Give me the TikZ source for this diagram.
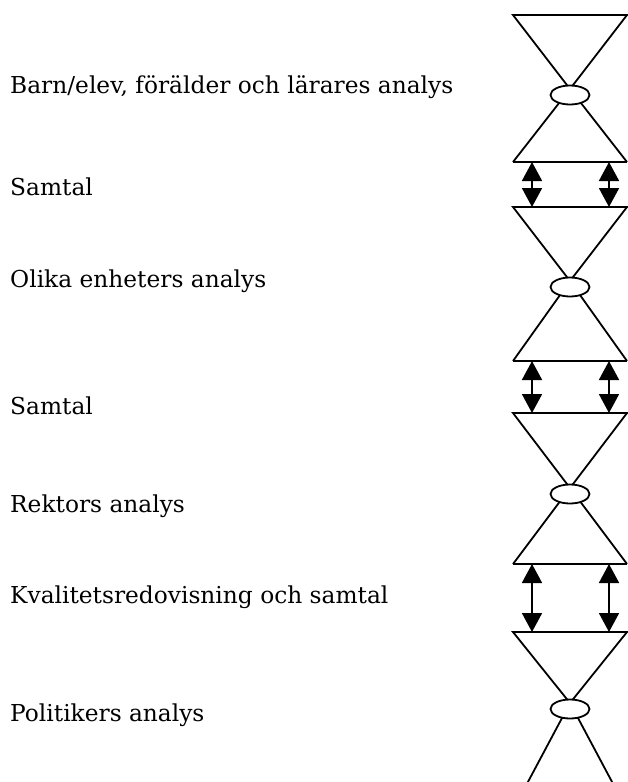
\documentclass[tikz,border=0pt]{standalone}
\usepackage{fontspec}
\setmainfont{DejaVu Serif}
\usetikzlibrary{arrows.meta,shapes.geometric}
\begin{document}
\begin{tikzpicture}[x=1pt,y=-1pt,
  hg/.style={line width=1.8pt,line join=miter},
  knot/.style={ellipse,draw,line width=1.8pt,fill=white,minimum width=39pt,minimum height=19pt,inner sep=0pt},
  dbl/.style={line width=1.8pt,{Triangle[width=20pt,length=19pt]}-{Triangle[width=20pt,length=19pt]}},
  lbl/.style={anchor=west,inner sep=0pt,font=\fontsize{23.3}{26}\selectfont}]
\useasboundingbox (0,0) rectangle (627,782);
% hourglasses
\foreach \n/\T/\E/\B in {1/15/95/162, 2/207/287/361, 3/413/494/564, 4/632/709/810}{
  \coordinate (tl\n) at (513,\T);
  \coordinate (tr\n) at (627,\T);
  \coordinate (bl\n) at (513,\B);
  \coordinate (br\n) at (627,\B);
  \coordinate (ap\n) at (570,\E-6);
  \draw[hg] (tl\n) -- (tr\n) -- (ap\n) -- cycle;
  \draw[hg] (ap\n) -- (bl\n);
  \draw[hg] (ap\n) -- (br\n);
  \node[knot] (k\n) at (570,\E) {};
}
\draw[hg] (bl1) -- (br1);
\draw[hg] (bl2) -- (br2);
\draw[hg] (bl3) -- (br3);
% arrows
\foreach \a/\ya/\yb in {1/162/207, 2/361/413, 3/564/632}{
  \coordinate (p\a) at (532,\ya);
  \coordinate (q\a) at (532,\yb);
  \coordinate (r\a) at (609,\ya);
  \coordinate (s\a) at (609,\yb);
  \draw[dbl] (p\a) -- (q\a);
  \draw[dbl] (r\a) -- (s\a);
}
% labels
\node[lbl] (t1) at (10,87) {Barn/elev, förälder och lärares analys};
\node[lbl] (t2) at (10,187) {Samtal};
\node[lbl] (t3) at (10,281) {Olika enheters analys};
\node[lbl] (t4) at (10,406) {Samtal};
\node[lbl] (t5) at (10,506) {Rektors analys};
\node[lbl] (t6) at (10,597) {Kvalitetsredovisning och samtal};
\node[lbl] (t7) at (10,715) {Politikers analys};
\end{tikzpicture}
\end{document}
